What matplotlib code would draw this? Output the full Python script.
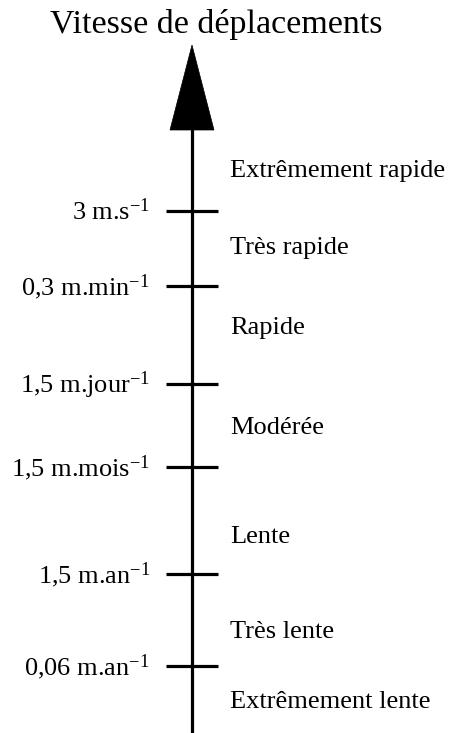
import matplotlib
matplotlib.use("Agg")
import matplotlib.pyplot as plt
from matplotlib.patches import Polygon

plt.rcParams['font.family'] = ['Liberation Serif', 'DejaVu Serif']
plt.rcParams['mathtext.fontset'] = 'custom'
plt.rcParams['mathtext.rm'] = 'Liberation Serif'
plt.rcParams['mathtext.it'] = 'Liberation Serif:italic'
plt.rcParams['mathtext.bf'] = 'Liberation Serif:bold'

# ---- data ----
title = "Vitesse de déplacements"
tick_labels = [r"3 m.s$^{-1}$", r"0,3 m.min$^{-1}$", r"1,5 m.jour$^{-1}$",
               r"1,5 m.mois$^{-1}$", r"1,5 m.an$^{-1}$", r"0,06 m.an$^{-1}$"]
band_labels = ["Extrêmement rapide", "Très rapide", "Rapide", "Modérée",
               "Lente", "Très lente", "Extrêmement lente"]

# ---- layout (pixel-like axis units, top = 0) ----
tick_pos = [211, 286, 384, 467, 574, 666]
band_pos = [171, 248, 328, 428, 537, 632, 702]
axis_x = 192
tick_half = 26
arrow_tip, arrow_base, arrow_half = 45, 130, 22

W, H = 451, 733
fig = plt.figure(figsize=(W / 100, H / 100), dpi=100)
ax = fig.add_axes([0, 0, 1, 1])
ax.set_xlim(0, W)
ax.set_ylim(H, 0)
ax.axis('off')

# main axis line
ax.plot([axis_x, axis_x], [H, arrow_base - 2], color='black', lw=2.3,
        solid_capstyle='butt')
# arrow head
ax.add_patch(Polygon([[axis_x, arrow_tip], [axis_x - arrow_half, arrow_base],
                      [axis_x + arrow_half, arrow_base]], closed=True,
                     facecolor='black', edgecolor='black', lw=0.5))

# ticks and labels
for y, lab in zip(tick_pos, tick_labels):
    ax.plot([axis_x - tick_half, axis_x + tick_half], [y, y], color='black',
            lw=2.3, solid_capstyle='butt')
    ax.text(150, y + 1, lab, ha='right', va='center', fontsize=19)

for y, lab in zip(band_pos, band_labels):
    ax.text(230, y, lab, ha='left', va='center', fontsize=19)

ax.text(216, 25, title, ha='center', va='center', fontsize=24.5)

fig.savefig("out.png", dpi=100)
